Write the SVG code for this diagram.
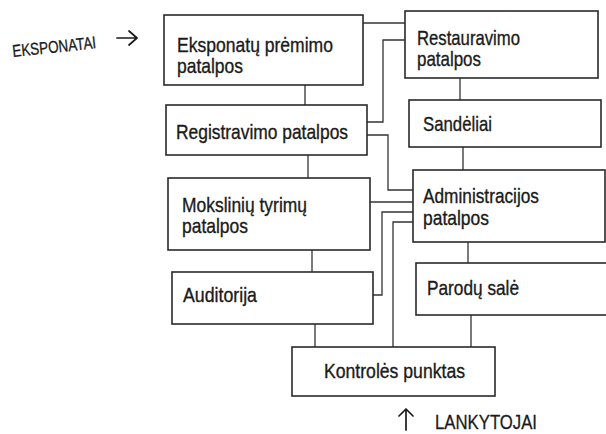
<svg xmlns="http://www.w3.org/2000/svg" width="606" height="434" viewBox="0 0 606 434">
<style>
.box{fill:#fff;stroke:#2a2a2a;stroke-width:1.6}
.ln{fill:none;stroke:#333;stroke-width:1.3}
.t{font-family:"Liberation Sans",Arial,sans-serif;font-size:21px;fill:#1a1a1a;stroke:#1a1a1a;stroke-width:0.35}
.lab{font-family:"Liberation Sans",Arial,sans-serif;fill:#1a1a1a;stroke:#1a1a1a;stroke-width:0.3}
.arr{fill:none;stroke:#1a1a1a;stroke-width:1.7;stroke-linecap:round;stroke-linejoin:round}
</style>
<rect width="606" height="434" fill="#fff"/>
<g id="connectors">
<path class="ln" d="M305 85V105"/>
<path class="ln" d="M308 155V178"/>
<path class="ln" d="M312 250V272"/>
<path class="ln" d="M315 324V347"/>
<path class="ln" d="M460 78V100"/>
<path class="ln" d="M463 147V170"/>
<path class="ln" d="M468 242V263"/>
<path class="ln" d="M471 315V347"/>
<path class="ln" d="M363 23H405"/>
<path class="ln" d="M367 122H383V40H405"/>
<path class="ln" d="M367 135H388V190H413"/>
<path class="ln" d="M370 202H413"/>
<path class="ln" d="M373 295H382V212H413"/>
<path class="ln" d="M393 347V222H413"/>
</g>
<g id="n1"><rect class="box" x="164" y="15" width="199" height="70"/>
<text class="t" x="177" y="52" textLength="156" lengthAdjust="spacingAndGlyphs">Eksponatų prėmimo</text>
<text class="t" x="177" y="73" textLength="66" lengthAdjust="spacingAndGlyphs">patalpos</text></g>
<g id="n2"><rect class="box" x="405" y="11" width="193" height="67"/>
<text class="t" x="417" y="45" textLength="103" lengthAdjust="spacingAndGlyphs">Restauravimo</text>
<text class="t" x="417" y="66" textLength="64" lengthAdjust="spacingAndGlyphs">patalpos</text></g>
<g id="n3"><rect class="box" x="166" y="105" width="201" height="50"/>
<text class="t" x="176" y="139" textLength="172" lengthAdjust="spacingAndGlyphs">Registravimo patalpos</text></g>
<g id="n4"><rect class="box" x="409" y="100" width="192" height="47"/>
<text class="t" x="423" y="131" textLength="69" lengthAdjust="spacingAndGlyphs">Sandėliai</text></g>
<g id="n5"><rect class="box" x="168" y="178" width="202" height="72"/>
<text class="t" x="182" y="212" textLength="125" lengthAdjust="spacingAndGlyphs">Mokslinių tyrimų</text>
<text class="t" x="182" y="233" textLength="66" lengthAdjust="spacingAndGlyphs">patalpos</text></g>
<g id="n6"><rect class="box" x="413" y="170" width="192" height="72"/>
<text class="t" x="423" y="203" textLength="116" lengthAdjust="spacingAndGlyphs">Administracijos</text>
<text class="t" x="423" y="225" textLength="66" lengthAdjust="spacingAndGlyphs">patalpos</text></g>
<g id="n7"><rect class="box" x="172" y="272" width="201" height="52"/>
<text class="t" x="183" y="302" textLength="74" lengthAdjust="spacingAndGlyphs">Auditorija</text></g>
<g id="n8"><rect class="box" x="416" y="263" width="194" height="52"/>
<text class="t" x="427" y="295" textLength="92" lengthAdjust="spacingAndGlyphs">Parodų salė</text></g>
<g id="n9"><rect class="box" x="292" y="347" width="203" height="49"/>
<text class="t" x="324" y="378" textLength="141" lengthAdjust="spacingAndGlyphs">Kontrolės punktas</text></g>
<g id="labels">
<text class="lab" x="13" y="57" font-size="17" textLength="84" lengthAdjust="spacingAndGlyphs" transform="rotate(-6 13 57)">EKSPONATAI</text>
<path class="arr" d="M117 38H137M129 31L137 38L129 45"/>
<text class="lab" x="435" y="429" font-size="21" textLength="102" lengthAdjust="spacingAndGlyphs">LANKYTOJAI</text>
<path class="arr" d="M406 430V409M399 416L406 409L413 416"/>
</g>
</svg>
